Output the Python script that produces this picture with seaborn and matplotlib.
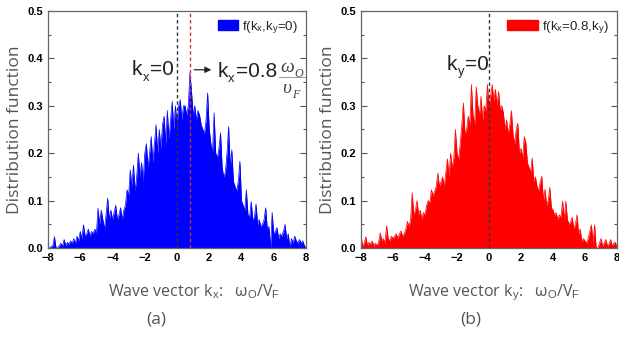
import numpy as np
import pandas as pd
import matplotlib
matplotlib.use("Agg")
import matplotlib.pyplot as plt
import seaborn as sns
from matplotlib.patches import Patch

sns.set_style("ticks")
plt.rcParams['font.family'] = ['Liberation Sans', 'DejaVu Sans']
plt.rcParams['mathtext.fontset'] = 'custom'
plt.rcParams['mathtext.rm'] = 'Liberation Sans'
plt.rcParams['mathtext.it'] = 'Liberation Serif:italic'

# wave vector grid, -8 .. 8 in steps of 0.1
k = np.round(np.arange(-8.0, 8.05, 0.1), 1)

# f(kx, ky=0)
f_a = [0.0, 0.0, 0.003, 0.005, 0.024, 0.0, 0.0, 0.005, 0.01, 0.004,
       0.018, 0.005, 0.012, 0.008, 0.015, 0.01, 0.02, 0.01, 0.025, 0.015,
       0.035, 0.02, 0.049, 0.025, 0.03, 0.04, 0.025, 0.035, 0.03, 0.04,
       0.03, 0.084, 0.05, 0.08, 0.06, 0.04, 0.07, 0.105, 0.06, 0.08,
       0.06, 0.075, 0.09, 0.06, 0.07, 0.085, 0.06, 0.08, 0.09, 0.123,
       0.11, 0.165, 0.13, 0.175, 0.12, 0.15, 0.2, 0.15, 0.18, 0.14,
       0.2, 0.22, 0.17, 0.2, 0.235, 0.18, 0.22, 0.26, 0.2, 0.25,
       0.21, 0.26, 0.278, 0.22, 0.29, 0.23, 0.27, 0.309, 0.25, 0.3,
       0.26, 0.3, 0.313, 0.27, 0.3, 0.3, 0.28, 0.3, 0.369, 0.33,
       0.28, 0.3, 0.27, 0.29, 0.28, 0.26, 0.25, 0.24, 0.27, 0.327,
       0.25, 0.22, 0.2, 0.285, 0.2, 0.19, 0.21, 0.243, 0.17, 0.15,
       0.16, 0.2, 0.256, 0.17, 0.207, 0.14, 0.13, 0.12, 0.14, 0.183,
       0.1, 0.09, 0.08, 0.123, 0.07, 0.065, 0.098, 0.06, 0.065, 0.093,
       0.05, 0.06, 0.045, 0.05, 0.06, 0.085, 0.04, 0.045, 0.0, 0.075,
       0.03, 0.035, 0.043, 0.02, 0.03, 0.025, 0.035, 0.05, 0.02, 0.03,
       0.0, 0.02, 0.01, 0.025, 0.015, 0.01, 0.018, 0.01, 0.015, 0.005,
       0.0]

# f(kx=0.8, ky)
f_b = [0.024, 0.005, 0.01, 0.024, 0.005, 0.012, 0.008, 0.015, 0.005, 0.01,
       0.005, 0.012, 0.032, 0.015, 0.02, 0.01, 0.047, 0.02, 0.015, 0.025,
       0.02, 0.025, 0.03, 0.02, 0.03, 0.036, 0.025, 0.03, 0.04, 0.056,
       0.045, 0.06, 0.117, 0.07, 0.08, 0.1, 0.07, 0.08, 0.06, 0.075,
       0.07, 0.09, 0.1, 0.095, 0.123, 0.11, 0.12, 0.13, 0.158, 0.13,
       0.14, 0.15, 0.13, 0.16, 0.188, 0.15, 0.2, 0.17, 0.19, 0.25,
       0.2, 0.186, 0.22, 0.26, 0.306, 0.24, 0.25, 0.278, 0.26, 0.345,
       0.28, 0.26, 0.34, 0.3, 0.28, 0.32, 0.27, 0.3, 0.29, 0.345,
       0.3, 0.32, 0.345, 0.31, 0.335, 0.3, 0.33, 0.29, 0.3, 0.285,
       0.25, 0.27, 0.24, 0.26, 0.29, 0.24, 0.22, 0.25, 0.263, 0.2,
       0.21, 0.19, 0.235, 0.223, 0.18, 0.17, 0.16, 0.19, 0.14, 0.15,
       0.13, 0.12, 0.14, 0.151, 0.1, 0.124, 0.09, 0.1, 0.128, 0.085,
       0.08, 0.07, 0.074, 0.06, 0.07, 0.065, 0.099, 0.06, 0.099, 0.06,
       0.05, 0.055, 0.065, 0.04, 0.05, 0.07, 0.03, 0.04, 0.014, 0.02,
       0.015, 0.01, 0.02, 0.035, 0.049, 0.01, 0.049, 0.0, 0.0, 0.01,
       0.02, 0.005, 0.01, 0.018, 0.005, 0.008, 0.018, 0.005, 0.01, 0.012,
       0.0]

df = pd.DataFrame({'k': k, 'fa': f_a, 'fb': f_b})


def sub_text(ax, x, y, base, sub, rest, size, color='#222222', **kw):
    # base + lowered subscript + rest, all on the same baseline as base
    t1 = ax.text(x, y, base, fontsize=size, color=color, **kw)
    t2 = ax.annotate(sub, xy=(1, 0), xycoords=t1, xytext=(0.3, -0.06 * size),
                     textcoords='offset points', fontsize=size * 0.62,
                     color=color, va='baseline', **kw)
    if rest:
        ax.annotate(rest, xy=(1, 0), xycoords=(t2, t1), xytext=(0.6, 0),
                    textcoords='offset points', fontsize=size, color=color,
                    va='bottom', **kw)


fig = plt.figure(figsize=(6.19, 3.37), dpi=100)
ax1 = fig.add_axes([48/619, 89/337, 258/619, 237/337])
ax2 = fig.add_axes([361/619, 89/337, 256/619, 237/337])

lab = dict(family='Open Sans', color='#555555')

for ax, col, c, leg, hl in [(ax1, 'fa', 'blue', r'f(k$_\mathrm{x}$,k$_\mathrm{y}$=0)', 1.5),
                            (ax2, 'fb', 'red', r'f(k$_\mathrm{x}$=0.8,k$_\mathrm{y}$)', 2.3)]:
    sns.lineplot(data=df, x='k', y=col, color=c, lw=0.5, ax=ax)
    ax.fill_between(df['k'], 0, df[col], color=c, lw=0)
    ax.set_xlim(-8, 8)
    ax.set_ylim(0, 0.5)
    ax.set_xticks(np.arange(-8, 9, 2))
    ax.set_xticks(np.arange(-7, 8, 2), minor=True)
    ax.set_yticks(np.arange(0, 0.51, 0.1))
    ax.set_yticks(np.arange(0.05, 0.5, 0.1), minor=True)
    ax.set_yticklabels(['0.0', '0.1', '0.2', '0.3', '0.4', '0.5'])
    ax.tick_params(which='both', direction='in', top=False, right=True,
                   labelsize=8, colors='#555555', labelcolor='black', width=0.8)
    ax.tick_params(which='major', length=4)
    ax.tick_params(which='minor', length=2.5)
    for lbl in ax.get_xticklabels() + ax.get_yticklabels():
        lbl.set_fontweight('bold')
    for s in ax.spines.values():
        s.set_color('#666666')
        s.set_linewidth(0.9)
    ax.set_ylabel('Distribution function', fontsize=12.5, labelpad=3, **lab)
    ax.legend(handles=[Patch(facecolor=c, edgecolor=c, label=leg)],
              loc='upper right', frameon=False, fontsize=9.5,
              handlelength=hl, handleheight=0.8, handletextpad=0.35,
              borderaxespad=0.3, borderpad=0.3)

ax1.set_xlabel(r'Wave vector k$_\mathrm{x}$:   ω$_\mathrm{O}$/V$_\mathrm{F}$',
               fontsize=11.5, **lab)
ax2.set_xlabel(r'Wave vector k$_\mathrm{y}$:   ω$_\mathrm{O}$/V$_\mathrm{F}$',
               fontsize=11.5, **lab)
ax1.xaxis.set_label_coords(0.566, -0.148)
ax2.xaxis.set_label_coords(0.518, -0.148)
fig.text(156/619, 1 - 320/337, '(a)', ha='center', va='center', fontsize=12.5, **lab)
fig.text(471/619, 1 - 320/337, '(b)', ha='center', va='center', fontsize=12.5, **lab)

ax1.axvline(0, color='#333333', ls=(0, (2.5, 2)), lw=1)
ax1.axvline(0.8, color='#c83737', ls=(0, (2.5, 2)), lw=1)
ax2.axvline(0, color='#333333', ls=(0, (2.5, 2)), lw=1)

sub_text(ax1, -2.8, 0.364, 'k', 'x', '=0', 15)
ax1.annotate('', xy=(2.3, 0.376), xytext=(0.9, 0.376),
             arrowprops=dict(arrowstyle='-|>', color='#222222', lw=0.9,
                             mutation_scale=9))
sub_text(ax1, 2.5, 0.361, 'k', 'x', '=0.8', 15)
serif = dict(family='Liberation Serif', style='italic')
sub_text(ax1, 6.42, 0.372, 'ω', 'O', '', 14, color='#444444', **serif)
ax1.plot([6.3, 8.0], [0.361, 0.361], color='#999999', lw=0.7)
sub_text(ax1, 6.54, 0.328, 'υ', 'F', '', 14, color='#444444', **serif)

sub_text(ax2, -2.64, 0.376, 'k', 'y', '=0', 15)

fig.savefig('out.png', dpi=100)
